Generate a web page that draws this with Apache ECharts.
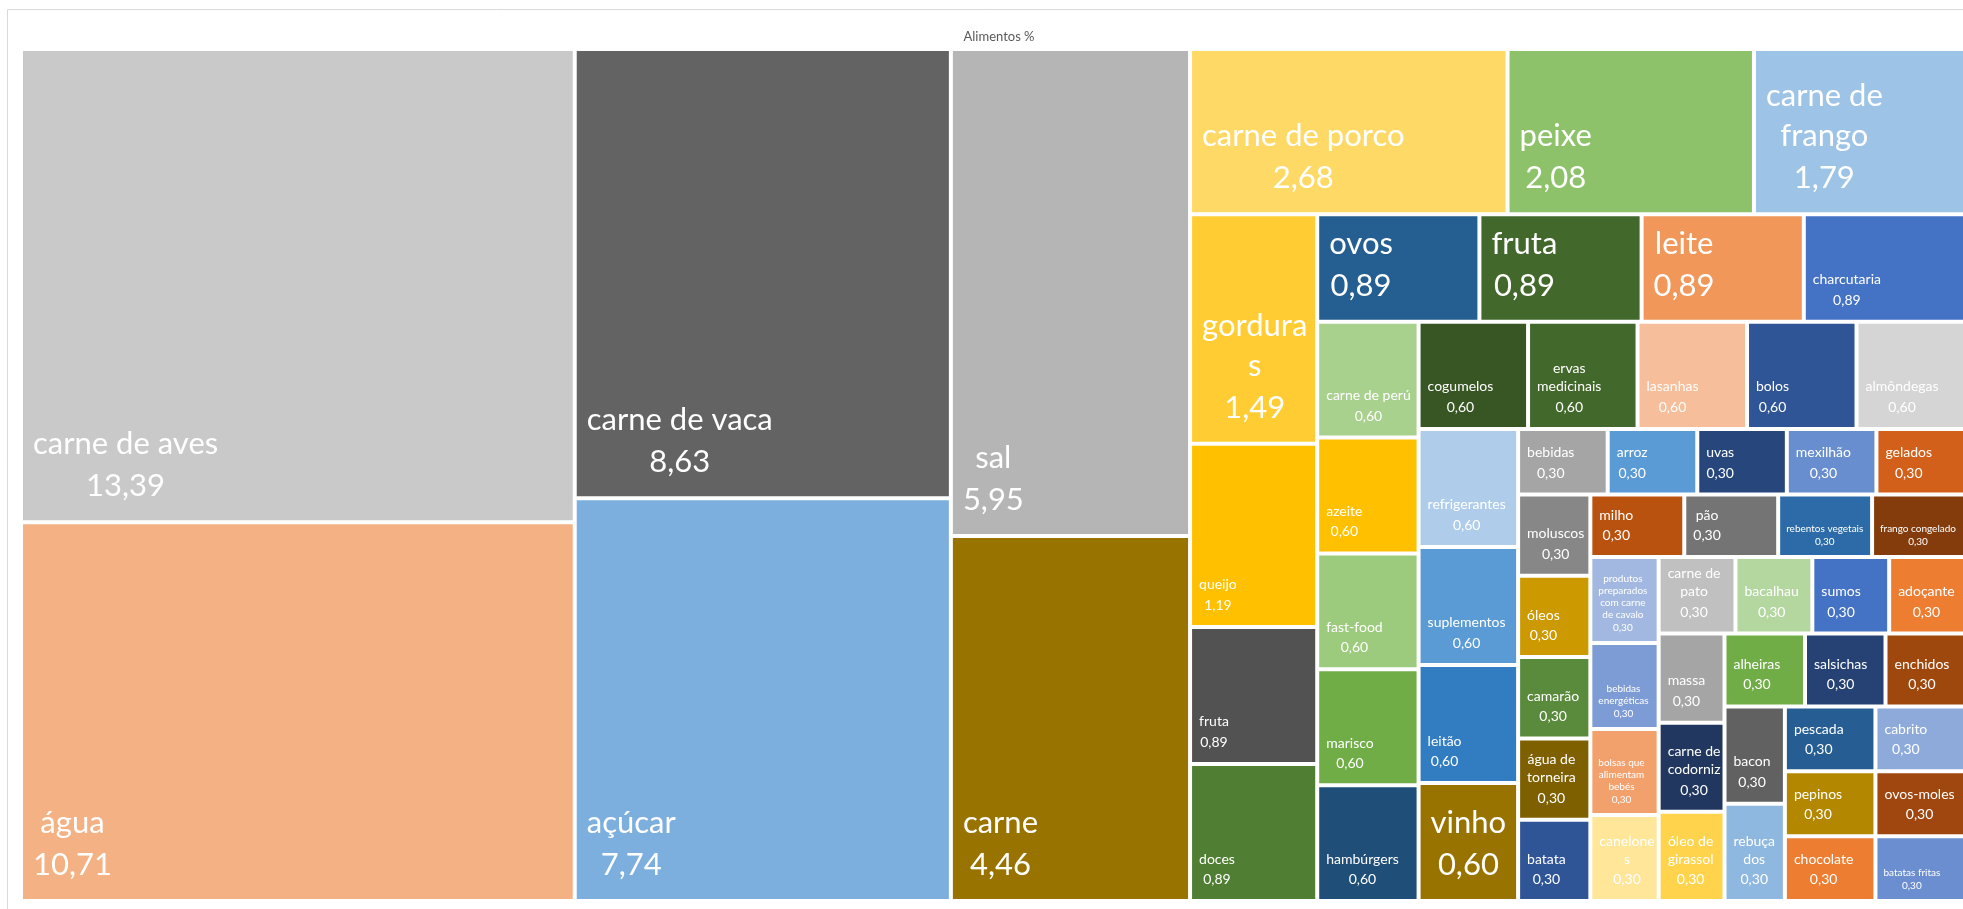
<!DOCTYPE html>
<html>
<head>
<meta charset="utf-8">
<script src="https://cdn.jsdelivr.net/npm/echarts@6/dist/echarts.min.js"></script>
<style>
  html, body { margin: 0; padding: 0; background: #fff; }
  #mainChart { width: 1963px; height: 909px; }
</style>
</head>
<body>
<div id="mainChart"></div>
<script>
// alimentos, na ordem em que são arrumados no treemap
var names = [
    "carne de aves", "água", "carne de vaca", "açúcar", "sal", "carne",
    "carne de porco", "peixe", "carne de frango", "gorduras", "queijo",
    "fruta", "doces", "ovos", "fruta", "leite", "charcutaria",
    "carne de perú", "azeite", "fast-food", "marisco", "hambúrgers",
    "cogumelos", "ervas medicinais", "lasanhas", "bolos", "almôndegas",
    "refrigerantes", "suplementos", "leitão", "vinho",
    "bebidas", "arroz", "uvas", "mexilhão", "gelados",
    "moluscos", "óleos", "camarão", "água de torneira", "batata",
    "milho", "pão", "rebentos vegetais", "frango congelado",
    "produtos preparados com carne de cavalo", "bebidas energéticas", "bolsas que alimentam bebés", "canelones",
    "carne de pato", "bacalhau", "sumos", "adoçante",
    "massa", "carne de codorniz", "óleo de girassol",
    "alheiras", "salsichas", "enchidos",
    "bacon", "rebuçados",
    "pescada", "cabrito",
    "pepinos", "chocolate",
    "ovos-moles", "batatas fritas"
];
var values = [
    13.39, 10.71, 8.63, 7.74, 5.95, 4.46,
    2.68, 2.08, 1.79, 1.49, 1.19,
    0.89, 0.89, 0.89, 0.89, 0.89, 0.89,
    0.60, 0.60, 0.60, 0.60, 0.60,
    0.60, 0.60, 0.60, 0.60, 0.60,
    0.60, 0.60, 0.60, 0.60,
    0.30, 0.30, 0.30, 0.30, 0.30,
    0.30, 0.30, 0.30, 0.30, 0.30,
    0.30, 0.30, 0.30, 0.30,
    0.30, 0.30, 0.30, 0.30,
    0.30, 0.30, 0.30, 0.30,
    0.30, 0.30, 0.30,
    0.30, 0.30, 0.30,
    0.30, 0.30,
    0.30, 0.30,
    0.30, 0.30,
    0.30, 0.30
];

// cores e tamanho do texto (L grande, M medio, S pequeno)
var colors = [
    "#C9C9C9", "#F4B183", "#636363", "#7DAFDE", "#B5B5B5", "#997300",
    "#FFD966", "#8DC16A", "#9DC3E6", "#FFCD33", "#FFC000",
    "#525252", "#507E32", "#255E91", "#43682B", "#F1975A", "#4472C4",
    "#A9D18E", "#FFC000", "#9DCB7D", "#70AD47", "#1F4E79",
    "#375623", "#43682B", "#F6BE9A", "#2F5597", "#D5D5D5",
    "#AFCDEA", "#5B9BD5", "#327DC1", "#997300",
    "#A5A5A5", "#5B9BD5", "#26467C", "#698ED0", "#D2601A",
    "#878787", "#CC9900", "#5A8B3C", "#7F6000", "#2F5597",
    "#B9520F", "#747474", "#2C6BA8", "#843C0C",
    "#A2B8E1", "#7D9CD6", "#F2A16D", "#FFE699",
    "#C0C0C0", "#B4D7A0", "#4472C4", "#ED7D31",
    "#A5A5A5", "#22375F", "#FFD44C",
    "#70AD47", "#264275", "#9E480E",
    "#616161", "#8FB8E0",
    "#265E93", "#8EAADB",
    "#B38800", "#ED7D31",
    "#A0460F", "#6B8ED0"
];
var tiers = [
    "L", "L", "L", "L", "L", "L",
    "L", "L", "L", "L", "M",
    "M", "M", "L", "L", "L", "L",
    "M", "M", "M", "M", "M",
    "M", "M", "M", "M", "M",
    "M", "M", "M", "L",
    "M", "M", "M", "M", "M",
    "M", "M", "M", "M", "M",
    "M", "M", "M", "S",
    "S", "S", "S", "M",
    "M", "M", "M", "M",
    "M", "M", "M",
    "M", "M", "M",
    "M", "M",
    "M", "M",
    "M", "M",
    "M", "S"
];

var font = "Lato, 'Open Sans', sans-serif";
var tierStyle = {
    L: { size: 31, nameLH: 40, valLH: 44, padL: 10, padB: 12 },
    M: { size: 14, nameLH: 18, valLH: 23, padL: 7, padB: 8 },
    S: { size: 10, nameLH: 12, valLH: 14, padL: 6, padB: 6 }
};
var tierOrder = ["L", "M", "S"];

var myChart = echarts.init(document.getElementById("mainChart"));

var treeData = [];
for (var i = 0; i < names.length; i++) {
    treeData.push({
        name: names[i],
        value: values[i],
        idx: i,
        itemStyle: { color: colors[i] }
    });
}

// rectangulos calculados pelo treemap, apanhados no labelLayout
var cellRects = {};

var border = {
    type: "rect",
    shape: { x: 7.5, y: 9.5, width: 1980, height: 920 },
    style: { fill: "none", stroke: "#D9D9D9", lineWidth: 1 },
    silent: true
};

var option = {
    animation: false,
    title: {
        text: "Alimentos %",
        left: 994,
        top: 25,
        textAlign: "center",
        textStyle: {
            fontFamily: font,
            fontSize: 13,
            fontWeight: "normal",
            color: "#595959"
        }
    },
    graphic: { elements: [border] },
    series: [{
        type: "treemap",
        left: 23,
        top: 51,
        width: 1941,
        height: 848,
        roam: false,
        nodeClick: false,
        sort: false,
        squareRatio: 0.8,
        breadcrumb: { show: false },
        itemStyle: {
            borderWidth: 0,
            gapWidth: 4,
            borderColor: "#fff"
        },
        label: {
            show: true,
            color: "rgba(0,0,0,0)",
            fontSize: 8,
            formatter: function (p) {
                return String(p.data.idx);
            }
        },
        labelLayout: function (p) {
            var k = parseInt(p.text, 10);
            if (!isNaN(k) && p.rect) {
                cellRects[k] = { x: p.rect.x, y: p.rect.y, width: p.rect.width, height: p.rect.height };
            }
            return {};
        },
        upperLabel: { show: false },
        emphasis: { disabled: true },
        data: treeData
    }]
};

myChart.setOption(option);

// texto de cada celula: nome (com quebra) e valor centrados, em baixo à esquerda
var ctx = document.createElement("canvas").getContext("2d");

function wrapName(name, size, maxW) {
    ctx.font = size + "px " + font;
    var words = name.split(" ");
    var lines = [];
    var cur = "";
    for (var w = 0; w < words.length; w++) {
        var word = words[w];
        var test = cur ? cur + " " + word : word;
        if (ctx.measureText(test).width <= maxW) {
            cur = test;
            continue;
        }
        if (cur) {
            lines.push(cur);
            cur = "";
        }
        // palavra demasiado comprida: parte-se a meio
        while (ctx.measureText(word).width > maxW && word.length > 1) {
            var cut = word.length - 1;
            while (cut > 1 && ctx.measureText(word.slice(0, cut)).width > maxW) cut--;
            lines.push(word.slice(0, cut));
            word = word.slice(cut);
        }
        cur = word;
    }
    if (cur) lines.push(cur);
    return lines;
}

var labelEls = [border];
for (var k = 0; k < names.length; k++) {
    var r = cellRects[k];
    if (!r) continue;
    var start = tierOrder.indexOf(tiers[k]);
    var st, lines;
    for (var t = start; t < tierOrder.length; t++) {
        st = tierStyle[tierOrder[t]];
        lines = wrapName(names[k], st.size, r.width - st.padL - 1);
        var h = lines.length * st.nameLH + st.valLH;
        if (h <= r.height - st.padB && lines.length <= 3) break;
    }
    var val = values[k].toFixed(2).replace(".", ",");
    var txt = [];
    for (var j = 0; j < lines.length; j++) txt.push("{n|" + lines[j] + "}");
    txt.push("{v|" + val + "}");
    labelEls.push({
        type: "text",
        x: r.x + st.padL,
        y: r.y + r.height - st.padB,
        z: 100,
        silent: true,
        style: {
            text: txt.join("\n"),
            align: "left",
            verticalAlign: "bottom",
            fill: "#fff",
            font: st.size + "px " + font,
            rich: {
                n: { fontSize: st.size, fontFamily: font, fill: "#fff", lineHeight: st.nameLH, align: "center" },
                v: { fontSize: st.size, fontFamily: font, fill: "#fff", lineHeight: st.valLH, align: "center" }
            }
        }
    });
}

myChart.setOption({ graphic: { elements: labelEls } });
</script>
</body>
</html>
